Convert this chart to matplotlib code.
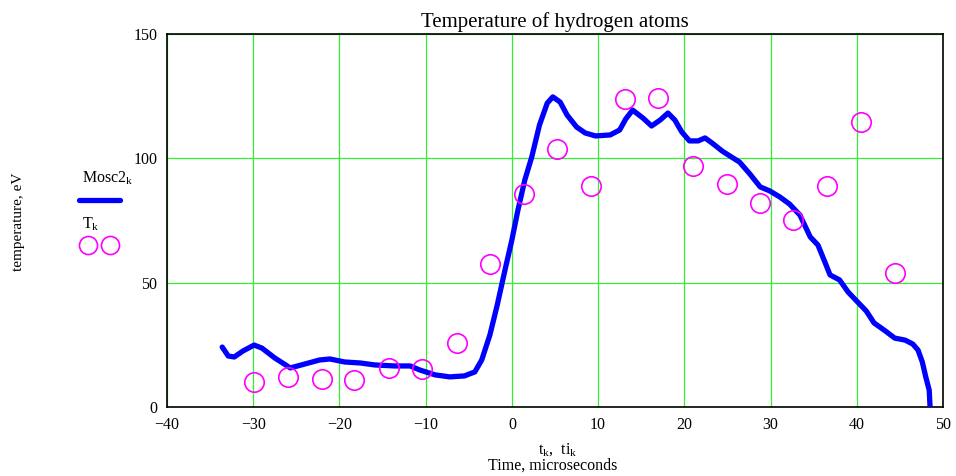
import matplotlib
matplotlib.use("Agg")
import matplotlib.pyplot as plt
from matplotlib.lines import Line2D

# Mosc2 curve (time, temperature)
t_curve = [-33.6, -32.9, -32.2, -31.2, -29.9, -29.0, -27.5, -25.7, -24.0, -22.3,
           -21.1, -19.4, -17.6, -15.9, -13.6, -11.8, -10.7, -8.9, -7.2, -5.5,
           -4.3, -3.5, -2.55, -1.7, -0.8, 0.0, 0.7, 1.5, 2.3, 3.2,
           4.1, 4.75, 5.6, 6.4, 7.5, 8.5, 9.7, 11.4, 12.5, 13.2,
           14.0, 15.2, 16.2, 17.2, 18.1, 18.9, 19.7, 20.6, 21.6, 22.4,
           23.2, 24.4, 25.3, 26.4, 27.6, 28.8, 29.9, 31.1, 32.2, 33.4,
           34.6, 35.5, 36.3, 36.9, 38.0, 39.0, 40.1, 41.1, 42.0, 43.3,
           44.4, 45.6, 46.5, 47.1, 47.6, 48.0, 48.4, 48.5]
mosc2 = [24.1, 20.5, 20.1, 22.5, 24.9, 23.7, 19.7, 15.7, 17.3, 18.9,
         19.3, 18.1, 17.7, 16.9, 16.5, 16.5, 14.9, 12.9, 12.1, 12.5,
         14.1, 18.9, 29.0, 41.0, 55.1, 67.2, 79.2, 91.3, 100.5, 113.4,
         122.2, 124.7, 122.6, 117.4, 112.6, 110.2, 109.0, 109.4, 111.4, 115.8,
         119.4, 116.2, 113.0, 115.4, 118.2, 115.4, 110.6, 107.0, 107.0, 108.2,
         106.2, 102.9, 100.9, 98.5, 93.7, 88.5, 86.9, 84.4, 81.6, 77.2,
         68.4, 65.1, 58.3, 53.1, 51.1, 46.2, 42.2, 38.6, 33.8, 30.6,
         27.7, 26.9, 25.3, 22.9, 18.1, 12.1, 6.8, 0.0]

# T measurements (ti, T)
t_points = [-29.9, -26.0, -22.0, -18.3, -14.3, -10.4, -6.4, -2.55, 1.4, 5.2,
            9.2, 13.1, 17.0, 21.0, 24.9, 28.8, 32.6, 36.5, 40.5, 44.4]
T_points = [10.0, 12.1, 11.3, 10.9, 15.7, 15.3, 25.7, 57.5, 85.6, 103.7,
            88.9, 123.8, 124.2, 96.9, 89.7, 82.0, 75.2, 88.9, 114.6, 53.9]

x_ticks = [-40, -30, -20, -10, 0, 10, 20, 30, 40, 50]
y_ticks = [0, 50, 100, 150]

plt.rcParams["font.family"] = ["Liberation Serif", "DejaVu Serif"]

fig = plt.figure(figsize=(9.56, 4.76), dpi=100)
ax = fig.add_axes([0.1747, 0.145, 0.8117, 0.7836])

ax.plot(t_curve, mosc2, color="#0000ff", lw=3.8, solid_capstyle="round", zorder=3)
ax.plot(t_points, T_points, ls="none", marker="o", ms=14, mfc="none",
        mec="#ff00ff", mew=1.2, zorder=4)

ax.set_xlim(-40, 50)
ax.set_ylim(0, 150)
ax.set_xticks(x_ticks)
ax.set_yticks(y_ticks)
ax.set_xticklabels([f"\u2212{abs(v)}" if v < 0 else str(v) for v in x_ticks])
ax.tick_params(length=0, labelsize=11.5, pad=7)
ax.grid(True, color="#33ee33", lw=0.9)
ax.set_axisbelow(True)
for s in ax.spines.values():
    s.set_color("black")
    s.set_linewidth(1.2)

ax.set_title("Temperature of hydrogen atoms", fontsize=15, pad=5)
fig.text(0.583, 0.047, r"$\mathregular{t_k,\ ti_k}$", ha="center", fontsize=11.5)
fig.text(0.578, 0.013, "Time, microseconds", ha="center", fontsize=11.5)
fig.text(0.019, 0.535, "temperature, eV", rotation=90, va="center", ha="center", fontsize=11)

# legend drawn at the left, outside the axes
fig.text(0.086, 0.617, r"Mosc2$\mathregular{_k}$", fontsize=11.5)
fig.add_artist(Line2D([0.083, 0.126], [0.58, 0.58], color="#0000ff", lw=3.8,
                      solid_capstyle="round", transform=fig.transFigure))
fig.text(0.086, 0.52, r"T$\mathregular{_k}$", fontsize=11.5)
fig.add_artist(Line2D([0.092, 0.115], [0.485, 0.485], ls="none", marker="o", ms=13,
                      mfc="none", mec="#ff00ff", mew=1.2, transform=fig.transFigure))

fig.savefig("out.png", dpi=100)
